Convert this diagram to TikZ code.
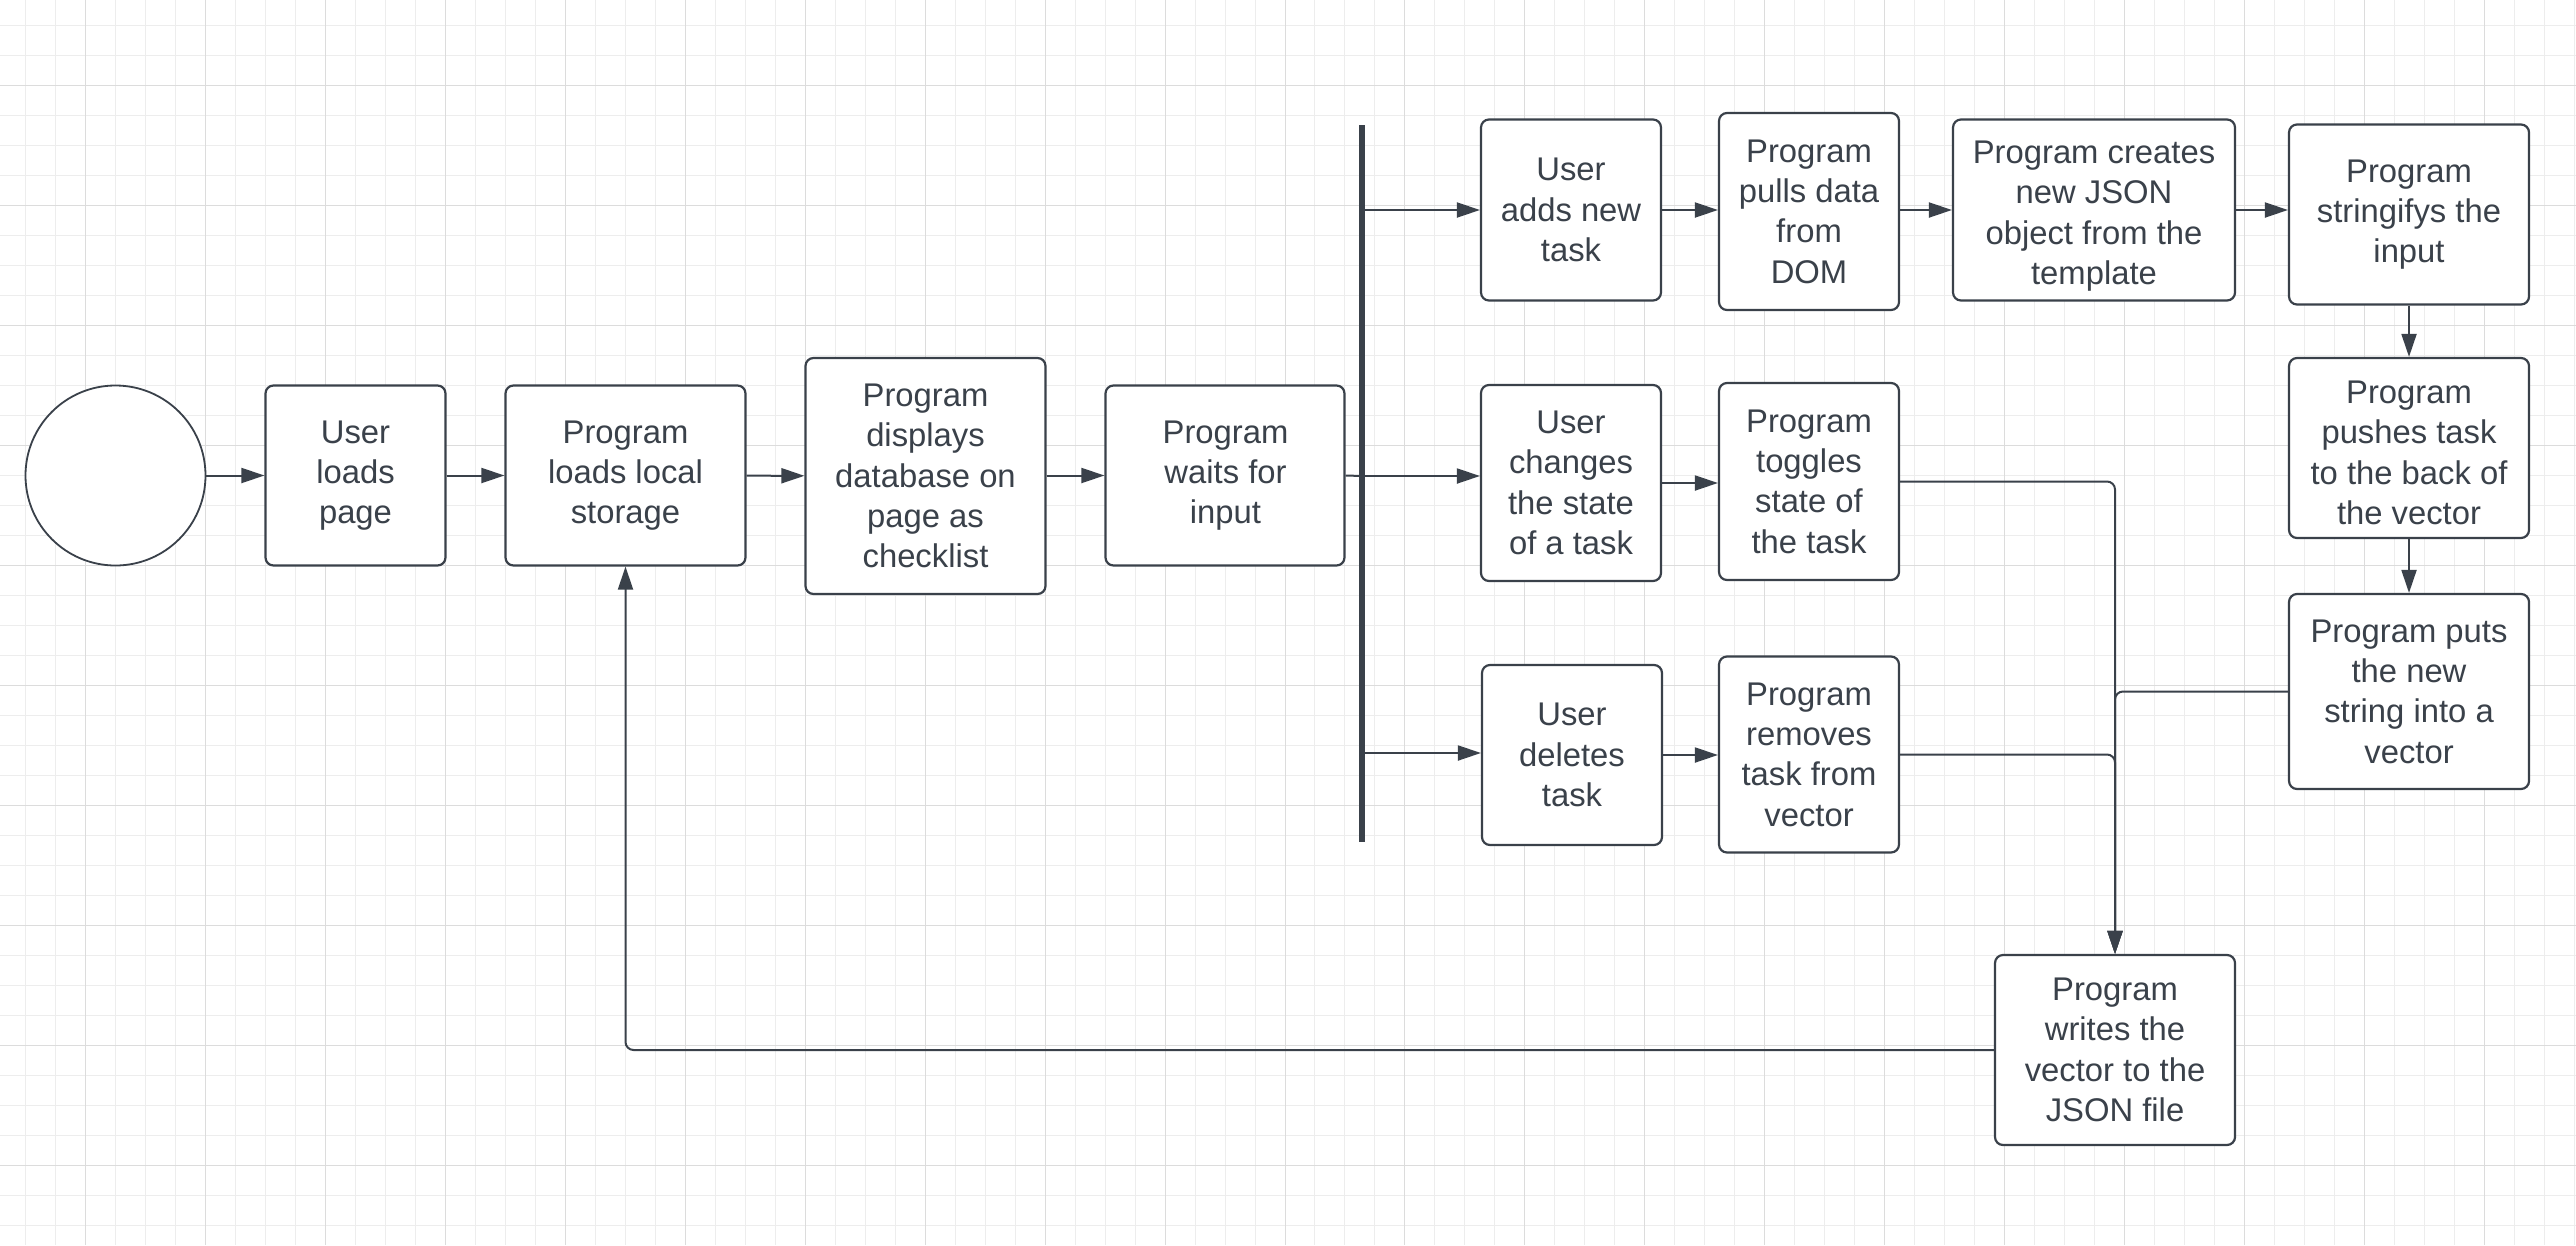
\documentclass[tikz,border=0pt]{standalone}
\usepackage{fontspec}
\setmainfont{Liberation Sans}
\usetikzlibrary{arrows.meta}
\definecolor{ink}{HTML}{3A414A}
\definecolor{gridminor}{HTML}{EDEDED}
\definecolor{gridmajor}{HTML}{DCDCDC}
\begin{document}
\begin{tikzpicture}[x=1pt,y=-1pt,
  box/.style={draw=ink, line width=2.2pt, rounded corners=8pt, fill=white, text=ink,
    align=center, inner sep=0pt, font=\fontsize{32.8}{40.3}\selectfont},
  boxtext/.style={text=ink, align=center, inner sep=0pt, font=\fontsize{32.8}{40.3}\selectfont},
  startnode/.style={circle, draw=ink, line width=1.8pt, fill=white, minimum size=180pt, inner sep=0pt},
  conn/.style={draw=ink, line width=2pt},
  arr/.style={conn, -{Triangle[length=23pt,width=15pt]}},
  minorgrid/.style={draw=gridminor, line width=1.5pt},
  majorgrid/.style={draw=gridmajor, line width=1.5pt},
]
\useasboundingbox (0,0) rectangle (2577,1245);
\fill[white] (0,0) rectangle (2577,1245);
% grid
\foreach \i in {0,...,85} {\draw[minorgrid] ({25.5+30*\i},0) -- ({25.5+30*\i},1245);}
\foreach \i in {0,...,40} {\draw[minorgrid] (0,{25.5+30*\i}) -- (2577,{25.5+30*\i});}
\foreach \i in {0,...,20} {\draw[majorgrid] ({85.5+120*\i},0) -- ({85.5+120*\i},1245);}
\foreach \i in {0,...,9} {\draw[majorgrid] (0,{85.5+120*\i}) -- (2577,{85.5+120*\i});}

% nodes
\node[startnode] (start) at (115.5,475.5) {};
\node[box, minimum width=180pt, minimum height=180pt] (loadpage) at (355.5,475.5) {User\\loads\\page};
\node[box, minimum width=240pt, minimum height=180pt] (loadls) at (625.5,475.5) {Program\\loads local\\storage};
\node[box, minimum width=240pt, minimum height=236pt] (display) at (925.5,476) {Program\\displays\\database on\\page as\\checklist};
\node[box, minimum width=240pt, minimum height=180pt] (waits) at (1225.5,475.5) {Program\\waits for\\input};

\coordinate (bartop) at (1363,125);
\coordinate (barbot) at (1363,842);
\coordinate (bar) at (1363,476);
\draw[ink, line width=6pt] (bartop) -- (barbot);

\node[box, minimum width=180pt, minimum height=181pt] (adds) at (1572,210) {User\\adds new\\task};
\node[box, minimum width=180pt, minimum height=197pt] (pulls) at (1810,211.5) {Program\\pulls data\\from\\DOM};
\node[box, minimum width=282pt, minimum height=181pt] (creates) at (2095,210) {};
\node[boxtext] (createstext) at ([yshift=-6pt]creates.center) {Program creates\\new JSON\\object from the\\template};
\node[box, minimum width=240pt, minimum height=180pt] (stringify) at (2410,214.5) {Program\\stringifys the\\input};
\node[box, minimum width=240pt, minimum height=180pt] (pushes) at (2410,448) {};
\node[boxtext] (pushestext) at ([yshift=-5pt]pushes.center) {Program\\pushes task\\to the back of\\the vector};
\node[box, minimum width=240pt, minimum height=195pt] (puts) at (2410,691.5) {Program puts\\the new\\string into a\\vector};

\node[box, minimum width=180pt, minimum height=196pt] (changes) at (1572,483) {User\\changes\\the state\\of a task};
\node[box, minimum width=180pt, minimum height=197pt] (toggles) at (1810,481.5) {Program\\toggles\\state of\\the task};
\node[box, minimum width=180pt, minimum height=180pt] (deletes) at (1573,755) {User\\deletes\\task};
\node[box, minimum width=180pt, minimum height=196pt] (removes) at (1810,754.5) {Program\\removes\\task from\\vector};
\node[box, minimum width=240pt, minimum height=190pt] (writes) at (2116,1050) {Program\\writes the\\vector to the\\JSON file};

% connectors
\draw[arr] (start) -- (loadpage);
\draw[arr] (loadpage) -- (loadls);
\draw[arr] (loadls) -- (display);
\draw[arr] (display.east |- waits.west) -- (waits.west);
\draw[conn] (waits.east) -- (bar);
\draw[arr] (adds.west -| bar) -- (adds.west);
\draw[arr] (bar) -- (bar -| changes.west);
\draw[arr] ([yshift=2pt]deletes.west -| bar) -- ([yshift=2pt]deletes.west);
\draw[arr] (adds.east) -- (adds.east -| pulls.west);
\draw[arr] (pulls.east |- creates.west) -- (creates.west);
\draw[arr] (creates.east) -- (creates.east -| stringify.west);
\draw[arr] (stringify) -- (pushes);
\draw[arr] (pushes) -- (puts);
\draw[arr] (changes.east) -- (changes.east -| toggles.west);
\draw[arr] (deletes.east) -- (deletes.east -| removes.west);
\draw[arr, rounded corners=8pt] (toggles.east) -| (writes.north);
\draw[arr, rounded corners=8pt] (removes.east) -| (writes.north);
\draw[arr, rounded corners=8pt] (puts.west) -| (writes.north);
\draw[arr, rounded corners=8pt] (writes.west) -| (loadls.south);
\end{tikzpicture}
\end{document}
